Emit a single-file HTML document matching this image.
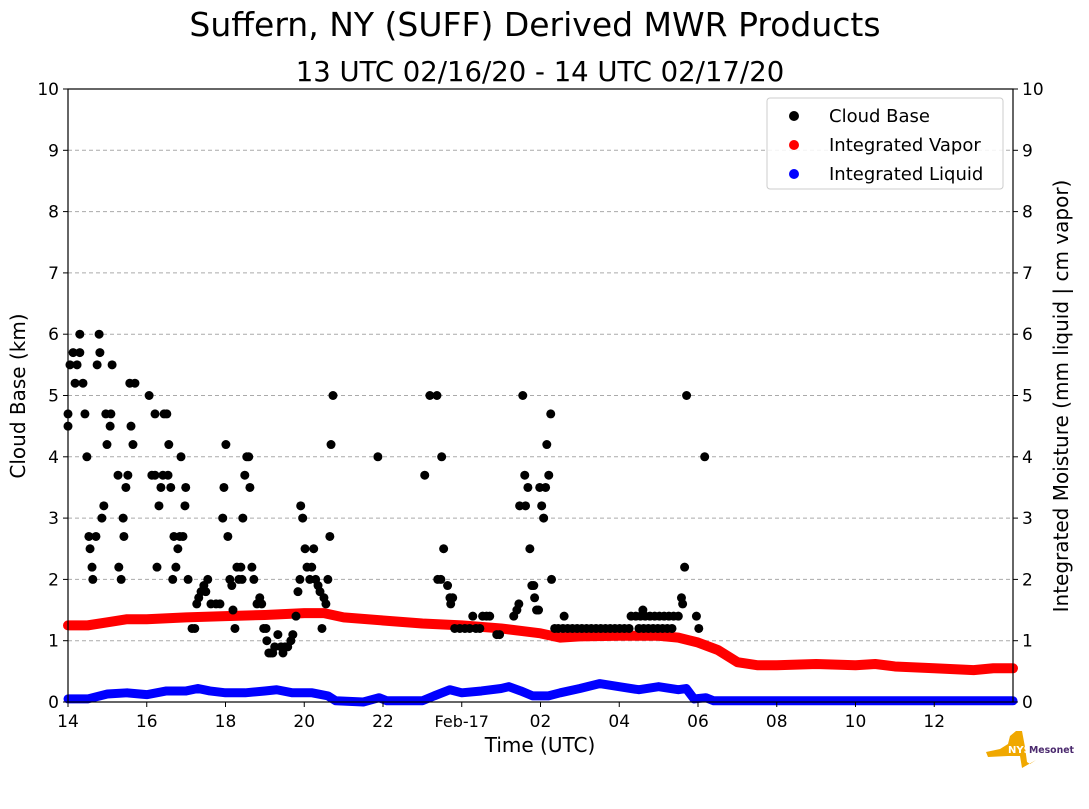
<!DOCTYPE html>
<html><head><meta charset="utf-8"><style>
body{margin:0;background:#fff;}
svg text{font-family:"DejaVu Sans","Liberation Sans",sans-serif;}
</style></head><body>
<svg id="chart" width="1089" height="804" xmlns="http://www.w3.org/2000/svg">
<text x="535" y="36" font-size="33" text-anchor="middle">Suffern, NY (SUFF) Derived MWR Products</text>
<text x="540" y="81" font-size="27.5" text-anchor="middle">13 UTC 02/16/20 - 14 UTC 02/17/20</text>
<g id="grid"></g>
<g id="series"></g>
<rect x="68" y="89" width="945" height="613" fill="none" stroke="#000" stroke-width="1.2"/>
<g id="axes"></g>
<text x="540" y="752" font-size="20" text-anchor="middle">Time (UTC)</text>
<text transform="translate(25,396) rotate(-90)" font-size="20" text-anchor="middle">Cloud Base (km)</text>
<text transform="translate(1068,396) rotate(-90)" font-size="20" text-anchor="middle">Integrated Moisture (mm liquid | cm vapor)</text>
<g>
<rect x="767" y="98" width="236" height="91" rx="3" fill="#fff" fill-opacity="0.85" stroke="#ccc"/>
<circle cx="794" cy="116" r="5" fill="#000"/>
<text x="829" y="122" font-size="18">Cloud Base</text>
<circle cx="794" cy="145" r="5" fill="#f00"/>
<text x="829" y="151" font-size="18">Integrated Vapor</text>
<circle cx="794" cy="174" r="5" fill="#00f"/>
<text x="829" y="180" font-size="18">Integrated Liquid</text>
</g>
<g>
<path d="M986,752 L1000,749 L1008,744 L1010,736 L1016,731 L1022,731 L1025,747 L1027,762 L1030,764 L1036,760 L1022,768 L1020,756 L1008,756 L988,757 Z" fill="#f0a800"/>
<text x="1008" y="753" font-size="10" font-weight="bold" fill="#fff">NYS</text>
<text x="1029" y="753" font-size="10" font-weight="bold" fill="#4b2a6e" textLength="45" lengthAdjust="spacingAndGlyphs">Mesonet</text>
</g>
</svg>
<script>
const xTickHours=[0,2,4,6,8,10,12,14,16,18,20,22];
const xTickLabels=["14","16","18","20","22","Feb-17","02","04","06","08","10","12"];
const yTicks=[0,1,2,3,4,5,6,7,8,9,10];
const cloudHours=[0,0,0.05,0.13,0.18,0.23,0.30,0.30,0.38,0.43,0.48,0.53,0.56,0.61,0.63,0.71,0.74,0.79,0.81,0.86,0.91,0.96,0.99,1.07,1.09,1.12,1.27,1.29,1.35,1.40,1.42,1.47,1.52,1.57,1.60,1.65,1.70,2.06,2.13,2.21,2.21,2.26,2.31,2.36,2.41,2.44,2.51,2.54,2.56,2.61,2.66,2.69,2.74,2.79,2.84,2.87,2.92,2.97,2.99,3.05,3.15,3.22,3.27,3.32,3.38,3.45,3.50,3.55,3.63,3.76,3.86,3.93,3.96,4.01,4.06,4.11,4.16,4.19,4.24,4.29,4.34,4.39,4.42,4.44,4.49,4.54,4.59,4.62,4.67,4.72,4.80,4.87,4.92,4.97,5.03,5.05,5.10,5.15,5.20,5.25,5.33,5.41,5.46,5.51,5.58,5.66,5.71,5.79,5.84,5.89,5.91,5.96,6.02,6.07,6.14,6.19,6.24,6.29,6.35,6.40,6.45,6.50,6.55,6.60,6.65,6.68,6.73,7.87,9.06,9.19,9.37,9.39,9.47,9.49,9.54,9.64,9.70,9.72,9.77,9.82,9.95,10.08,10.20,10.28,10.36,10.46,10.53,10.63,10.71,10.89,10.96,11.32,11.40,11.45,11.47,11.55,11.60,11.62,11.68,11.73,11.78,11.83,11.85,11.90,11.95,11.98,12.03,12.08,12.13,12.16,12.21,12.26,12.28,12.36,
12.45,12.57,12.69,12.81,12.93,13.05,13.17,13.29,13.41,13.53,13.65,13.77,13.89,14.01,14.13,14.25,12.60,
14.30,14.42,14.54,14.66,14.78,14.90,15.02,15.14,15.26,15.38,15.50,14.50,14.62,14.74,14.86,14.98,15.10,15.22,15.34,14.60,
15.58,15.61,15.66,15.71,15.96,16.02,16.17];
const cloudKm=[4.7,4.5,5.5,5.7,5.2,5.5,6,5.7,5.2,4.7,4.0,2.7,2.5,2.2,2.0,2.7,5.5,6,5.7,3.0,3.2,4.7,4.2,4.5,4.7,5.5,3.7,2.2,2.0,3.0,2.7,3.5,3.7,5.2,4.5,4.2,5.2,5.0,3.7,4.7,3.7,2.2,3.2,3.5,3.7,4.7,4.7,3.7,4.2,3.5,2.0,2.7,2.2,2.5,2.7,4.0,2.7,3.2,3.5,2.0,1.2,1.2,1.6,1.7,1.8,1.9,1.8,2.0,1.6,1.6,1.6,3.0,3.5,4.2,2.7,2.0,1.9,1.5,1.2,2.2,2.0,2.2,2.0,3.0,3.7,4.0,4.0,3.5,2.2,2.0,1.6,1.7,1.6,1.2,1.2,1.0,0.8,0.8,0.8,0.9,1.1,0.9,0.8,0.9,0.9,1.0,1.1,1.4,1.8,2.0,3.2,3.0,2.5,2.2,2.0,2.2,2.5,2.0,1.9,1.8,1.2,1.7,1.6,2.0,2.7,4.2,5.0,4.0,3.7,5.0,5.0,2.0,2.0,4.0,2.5,1.9,1.7,1.6,1.7,1.2,1.2,1.2,1.2,1.4,1.2,1.2,1.4,1.4,1.4,1.1,1.1,1.4,1.5,1.6,3.2,5.0,3.7,3.2,3.5,2.5,1.9,1.9,1.7,1.5,1.5,3.5,3.2,3.0,3.5,4.2,3.7,4.7,2.0,1.2,
1.2,1.2,1.2,1.2,1.2,1.2,1.2,1.2,1.2,1.2,1.2,1.2,1.2,1.2,1.2,1.2,1.4,
1.4,1.4,1.4,1.4,1.4,1.4,1.4,1.4,1.4,1.4,1.4,1.2,1.2,1.2,1.2,1.2,1.2,1.2,1.2,1.5,
1.7,1.6,2.2,5.0,1.4,1.2,4.0];
const vaporHours=[0,0.5,1,1.5,2,3,4,5,6,6.5,7,8,9,10,11,12,12.5,13,14,15,15.5,16,16.5,17,17.5,18,19,20,20.5,21,22,23,23.5,24];
const vaporVals=[1.25,1.25,1.3,1.35,1.35,1.38,1.4,1.42,1.45,1.45,1.38,1.33,1.28,1.25,1.2,1.12,1.05,1.07,1.08,1.08,1.05,0.97,0.85,0.65,0.6,0.6,0.62,0.6,0.62,0.58,0.55,0.52,0.55,0.55];
const liquidHours=[0,0.5,1,1.5,2,2.5,3,3.3,3.6,4,4.5,5,5.3,5.7,6.2,6.6,6.8,7.5,7.9,8.1,9,9.3,9.7,10,10.5,11,11.2,11.5,11.8,12.2,12.5,13,13.5,14,14.5,15,15.5,15.7,15.9,16.2,16.4,17,24];
const liquidVals=[0.05,0.05,0.13,0.15,0.12,0.18,0.18,0.22,0.18,0.15,0.15,0.18,0.2,0.15,0.15,0.1,0.02,0.0,0.07,0.02,0.02,0.1,0.2,0.15,0.18,0.22,0.25,0.18,0.1,0.1,0.15,0.22,0.3,0.25,0.2,0.25,0.2,0.22,0.05,0.07,0.02,0.02,0.02];

const NS="http://www.w3.org/2000/svg";
const X0=68,X1=1013,Y0=702,Y1=89;
function xs(h){return X0+h*(X1-X0)/24;}
function ys(v){return Y0-v*(Y0-Y1)/10;}
function mk(tag,attrs,parent){const e=document.createElementNS(NS,tag);for(const k in attrs)e.setAttribute(k,attrs[k]);parent.appendChild(e);return e;}
const grid=document.getElementById('grid'),axes=document.getElementById('axes'),series=document.getElementById('series');
yTicks.forEach(v=>{
  const y=ys(v);
  if(v>0&&v<10){const g=mk('line',{x1:X0,x2:X1,y1:y,y2:y,stroke:'#aaa','stroke-dasharray':'4,3','stroke-width':1},grid);
  
  }
  const t1=mk('line',{x1:X0-5,x2:X0,y1:y,y2:y,stroke:'#000'},axes);
  
  
  const t2=mk('line',{x1:X1,x2:X1+5,y1:y,y2:y,stroke:'#000'},axes);
  
  
  const l1=mk('text',{x:X0-9,y:y+6,'font-size':17,'text-anchor':'end'},axes);l1.textContent=v;
  
  
  const l2=mk('text',{x:X1+9,y:y+6,'font-size':17},axes);l2.textContent=v;
  
  
});
xTickHours.forEach((h,i)=>{
  const x=xs(h);
  const t=mk('line',{x1:x,x2:x,y1:Y0,y2:Y0+5,stroke:'#000'},axes);
  
  
  const l=mk('text',{x:x,y:Y0+25,'font-size':i==5?16:17,'text-anchor':'middle'},axes);l.textContent=xTickLabels[i];
  
  
});
function line(hs,vs,color,name,w){
  const p=mk('polyline',{points:hs.map((h,i)=>xs(h)+','+ys(vs[i])).join(' '),fill:'none',stroke:color,'stroke-width':w,'stroke-linecap':'round','stroke-linejoin':'round'},series);
  
  
}
line(vaporHours,vaporVals,'#f00','integrated-vapor-series',10);
line(liquidHours,liquidVals,'#00f','integrated-liquid-series',9);
cloudHours.forEach((h,i)=>{
  const c=mk('circle',{cx:xs(h),cy:ys(cloudKm[i]),r:4.5,fill:'#000'},series);
  
  
});
</script>
</body></html>
